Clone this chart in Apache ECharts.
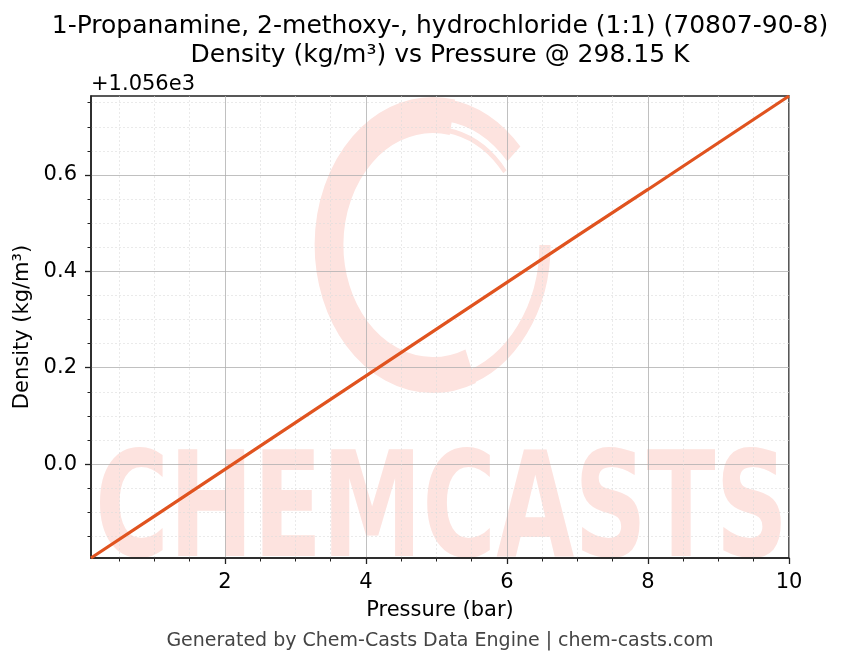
<!DOCTYPE html>
<html><head><meta charset="utf-8">
<script src="https://cdn.jsdelivr.net/npm/echarts@6/dist/echarts.min.js"></script>
<style>html,body{margin:0;padding:0;background:#fff}#c{width:843px;height:666px}</style>
</head><body><div id="c"></div>
<script>
const pressure = [0.1, 1, 2, 3, 4, 5, 6, 7, 8, 9, 10];
const density = [1055.805, 1055.892, 1055.989, 1056.086, 1056.183, 1056.280, 1056.377, 1056.474, 1056.570, 1056.667, 1056.764];
const xMajor = [2, 4, 6, 8, 10];
const xMinor = [0.5, 1, 1.5, 2.5, 3, 3.5, 4.5, 5, 5.5, 6.5, 7, 7.5, 8.5, 9, 9.5];
const yMajor = [1056.0, 1056.2, 1056.4, 1056.6];
const yMinor = [1055.85, 1055.9, 1055.95, 1056.05, 1056.1, 1056.15, 1056.25, 1056.3, 1056.35, 1056.45, 1056.5, 1056.55, 1056.65, 1056.7, 1056.75];
const yOffset = 1056;
const titleLines = ['1-Propanamine, 2-methoxy-, hydrochloride (1:1) (70807-90-8)', 'Density (kg/m³) vs Pressure @ 298.15 K'];

const FONT = 'DejaVu Sans';
const chart = echarts.init(document.getElementById('c'));
const xLim = [0.1, 10], yLim = [1055.805, 1056.764];
const common = {type: 'value', axisLabel: {show: false}, axisTick: {show: false}, axisLine: {show: false}, splitLine: {show: false}};
const wm = '#fde3df';
chart.setOption({
  animation: false,
  textStyle: {fontFamily: FONT},
  grid: {left: 91, right: 54, top: 96, bottom: 108, show: true, borderColor: '#222', borderWidth: 1.5, backgroundColor: 'transparent'},
  graphic: [
    {type: 'text', position: [440, 12], z: 10, style: {text: titleLines.join('\n'), textAlign: 'center', font: '25px "DejaVu Sans"', fill: '#000', lineHeight: 29}},
    {type: 'text', position: [91, 74], style: {text: '+1.056e3', font: '21px "DejaVu Sans"', fill: '#000'}},
    {type: 'text', position: [440, 632], style: {text: 'Generated by Chem-Casts Data Engine | chem-casts.com', textAlign: 'center', font: '19px "DejaVu Sans"', fill: '#444'}},
    {type: 'text', position: [95, 445], z: -10, scaleX: 0.69, style: {text: 'CHEMCASTS', font: 'bold 146px "DejaVu Sans"', fill: wm}},
    {type: 'arc', position: [433, 245], scaleX: 0.8, z: -10, shape: {cx: 0, cy: 0, r: 130, startAngle: 1.2, endAngle: 4.9, clockwise: true}, style: {stroke: wm, lineWidth: 36, fill: null}},
    {type: 'arc', position: [433, 245], scaleX: 0.8, z: -10, shape: {cx: 0, cy: 0, r: 136, startAngle: 4.85, endAngle: 5.55, clockwise: true}, style: {stroke: wm, lineWidth: 22, fill: null}},
    {type: 'arc', position: [433, 245], scaleX: 0.8, z: -10, shape: {cx: 0, cy: 0, r: 140, startAngle: 0.0, endAngle: 1.3, clockwise: true}, style: {stroke: wm, lineWidth: 14, fill: null}},
    {type: 'arc', position: [433, 245], scaleX: 0.8, z: -10, shape: {cx: 0, cy: 0, r: 116, startAngle: 4.3, endAngle: 5.6, clockwise: true}, style: {stroke: wm, lineWidth: 5, fill: null}}
  ],
  xAxis: [
    {type: 'value', min: xLim[0], max: xLim[1], position: 'bottom',
     name: 'Pressure (bar)', nameLocation: 'middle', nameGap: 42, nameTextStyle: {fontSize: 21, color: '#000', fontFamily: FONT},
     axisLine: {show: true, lineStyle: {color: '#222', width: 1.5}},
     axisTick: {show: true, customValues: xMajor, length: 6, lineStyle: {color: '#222', width: 1.3}},
     axisLabel: {show: true, customValues: xMajor, fontSize: 21, color: '#000', margin: 14, fontFamily: FONT},
     splitLine: {show: true, lineStyle: {color: '#b0b0b0', width: 0.8}}},
    Object.assign({}, common, {min: xLim[0], max: xLim[1], position: 'bottom',
     axisTick: {show: true, customValues: xMinor, length: 3.5, lineStyle: {color: '#222', width: 1}},
     splitLine: {show: true, lineStyle: {color: '#dcdcdc', width: 0.6, type: [2, 2]}}})
  ],
  yAxis: [
    {type: 'value', min: yLim[0], max: yLim[1], position: 'left',
     name: 'Density (kg/m³)', nameLocation: 'middle', nameGap: 56, nameTextStyle: {fontSize: 21, color: '#000', fontFamily: FONT},
     axisLine: {show: true, lineStyle: {color: '#222', width: 1.5}},
     axisTick: {show: true, customValues: yMajor, length: 6, lineStyle: {color: '#222', width: 1.3}},
     axisLabel: {show: true, customValues: yMajor, fontSize: 21, color: '#000', margin: 14, fontFamily: FONT,
       formatter: v => (v - yOffset).toFixed(1)},
     splitLine: {show: true, lineStyle: {color: '#b0b0b0', width: 0.8}}},
    Object.assign({}, common, {min: yLim[0], max: yLim[1], position: 'left',
     axisTick: {show: true, customValues: yMinor, length: 3.5, lineStyle: {color: '#222', width: 1}},
     splitLine: {show: true, lineStyle: {color: '#dcdcdc', width: 0.6, type: [2, 2]}}})
  ],
  series: [{type: 'line', xAxisIndex: 0, yAxisIndex: 0, showSymbol: false, symbol: 'none',
    data: pressure.map((p, i) => [p, density[i]]),
    lineStyle: {color: '#e0531f', width: 3.2}, z: 5}]
});
</script></body></html>
